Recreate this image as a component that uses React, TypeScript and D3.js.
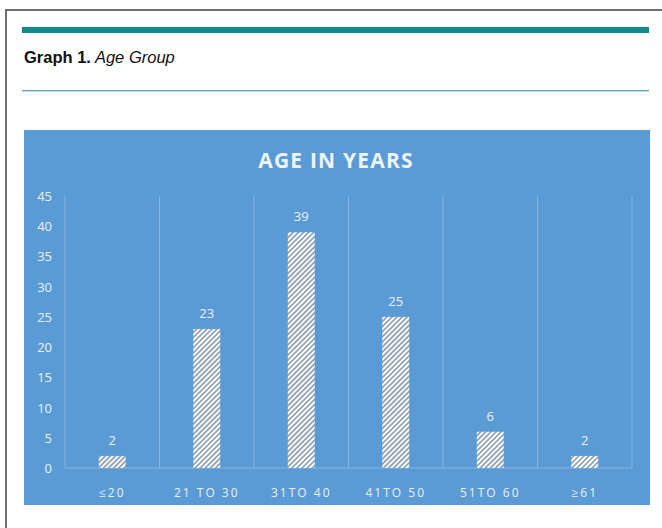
import React from "react";
import * as d3 from "d3";

const categories = ["≤20", "21 TO 30", "31TO 40", "41TO 50", "51TO 60", "≥61"];
const values = [2, 23, 39, 25, 6, 2];
const yTicks = [0, 5, 10, 15, 20, 25, 30, 35, 40, 45];
const chartTitle = "AGE IN YEARS";
const captionBold = "Graph 1.";
const captionItalic = "Age Group";

const W = 662;
const H = 528;
const plot = { left: 65, right: 632, top: 196, bottom: 468 };

export default function App() {
  const x = d3
    .scaleBand<string>()
    .domain(categories)
    .range([plot.left, plot.right])
    .paddingInner(0)
    .paddingOuter(0);
  const y = d3.scaleLinear().domain([0, 45]).range([plot.bottom, plot.top]);
  const barW = x.bandwidth() * 0.285;
  const txt = "#eaf1fa";
  const grid = "#86b5e2";
  const font = "'Open Sans', 'Noto Sans', sans-serif";

  return (
    <svg
      width={W}
      height={H}
      style={{ position: "absolute", left: 0, top: 0, display: "block" }}
    >
      <defs>
        <pattern
          id="hatch"
          patternUnits="userSpaceOnUse"
          width={3.6}
          height={3.6}
          patternTransform="rotate(45)"
        >
          <rect width={3.6} height={3.6} fill="#ffffff" />
          <line x1={0.9} y1={0} x2={0.9} y2={3.6} stroke="#8499b0" strokeWidth={1.6} />
        </pattern>
      </defs>
      <rect width={W} height={H} fill="#ffffff" />
      {/* frame */}
      <line x1={6} y1={10} x2={6} y2={H} stroke="#707070" strokeWidth={2} />
      <line x1={5} y1={10} x2={W} y2={10} stroke="#707070" strokeWidth={2} />
      {/* caption */}
      <rect x={22} y={27} width={627} height={6} fill="#0e8a8e" />
      <text x={24} y={63} fontFamily="'Liberation Sans', sans-serif" fontSize={16.5} fill="#111">
        <tspan fontWeight="bold">{captionBold}</tspan>
        <tspan fontStyle="italic" dx={4}>{captionItalic}</tspan>
      </text>
      <rect x={22} y={90} width={627} height={1.3} fill="#4ea9b0" />
      {/* chart area */}
      <rect x={24} y={130} width={626} height={375} fill="#5b9bd5" />
      <text
        x={336}
        y={168}
        textAnchor="middle"
        fontFamily={font}
        fontWeight="bold"
        fontSize={21}
        fill="#eef4fb"
        letterSpacing={1.2}
      >
        {chartTitle}
      </text>
      {/* vertical category gridlines */}
      {categories.map((c) => (
        <line
          key={"g" + c}
          x1={x(c)!}
          x2={x(c)!}
          y1={plot.top}
          y2={plot.bottom}
          stroke={grid}
          strokeWidth={1}
        />
      ))}
      <line x1={plot.right} x2={plot.right} y1={plot.top} y2={plot.bottom} stroke={grid} strokeWidth={1} />
      <line x1={plot.left} x2={plot.right} y1={plot.bottom} y2={plot.bottom} stroke={grid} strokeWidth={1.2} />
      {/* y ticks */}
      {yTicks.map((t) => (
        <text
          key={"y" + t}
          x={52}
          y={y(t) + 5}
          textAnchor="end"
          fontFamily={font}
          fontSize={13}
          fill={txt}
        >
          {t}
        </text>
      ))}
      {/* bars */}
      {categories.map((c, i) => {
        const cx = x(c)! + x.bandwidth() / 2;
        return (
          <g key={"b" + c}>
            <rect
              x={cx - barW / 2}
              y={y(values[i])}
              width={barW}
              height={plot.bottom - y(values[i])}
              fill="url(#hatch)"
            />
            <text
              x={cx}
              y={y(values[i]) - 11}
              textAnchor="middle"
              fontFamily={font}
              fontSize={13}
              fill={txt}
            >
              {values[i]}
            </text>
            <text
              x={cx}
              y={497}
              textAnchor="middle"
              fontFamily={font}
              fontSize={12}
              letterSpacing={2}
              fill={txt}
            >
              {c}
            </text>
          </g>
        );
      })}
    </svg>
  );
}
